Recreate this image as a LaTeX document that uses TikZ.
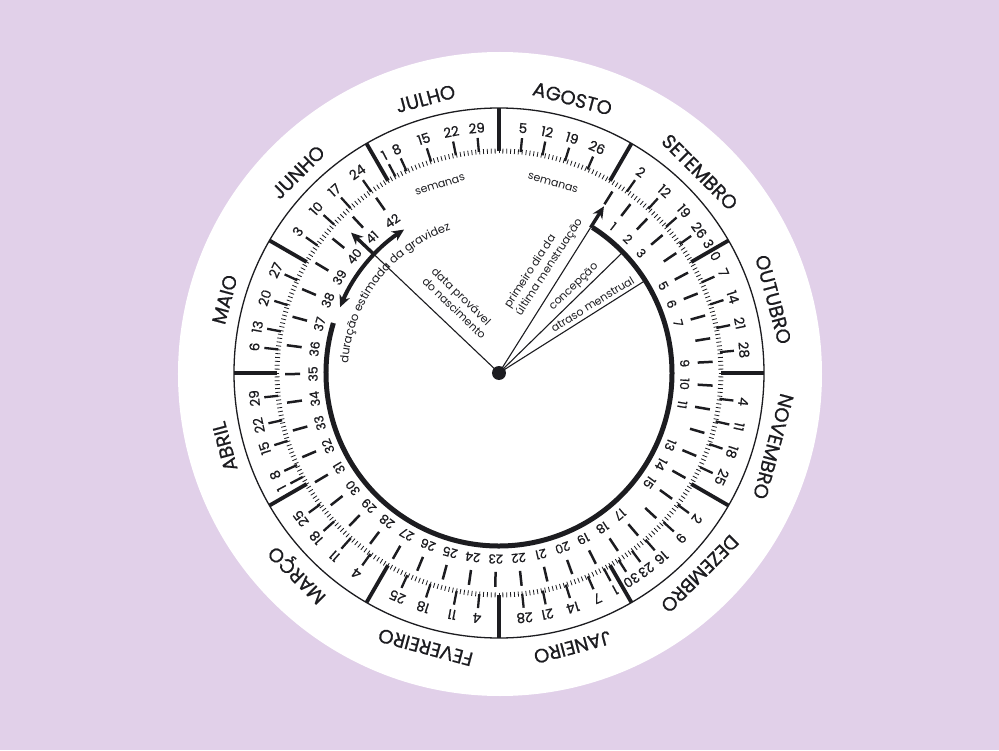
\documentclass[tikz,border=0pt]{standalone}
\usepackage{fontspec}
\setmainfont{Poppins}
\newfontfamily\wheelfont{Poppins}[FakeBold=0.7]
\usepackage{tikz}
\usetikzlibrary{arrows.meta, decorations.text}

\definecolor{lilac}{HTML}{E1D0E9}
\definecolor{ink}{HTML}{1C1C20}
\newcommand\durfont{\fontsize{11.5}{11.5}\selectfont}

\tikzset{
  monthname/.style={font=\wheelfont\fontsize{19.5}{19.5}\selectfont, text=ink, inner sep=0pt},
  daylabel/.style={font=\wheelfont\fontsize{13.5}{13.5}\selectfont, text=ink, inner sep=0pt},
  weeklabel/.style={font=\wheelfont\fontsize{12.5}{12.5}\selectfont, text=ink, inner sep=0pt},
  smalltext/.style={font=\fontsize{11}{13.5}\selectfont, text=ink, inner sep=0pt, align=left},
  daytick/.style={ink, line width=2.3pt},
  weekdash/.style={ink, line width=2.5pt},
  divider/.style={ink, line width=3.8pt},
  pointer/.style={ink, line width=1.1pt},
  pointerhead/.style={ink, line width=3.4pt, -{Stealth[length=12pt,width=11pt]}}
}

\begin{document}
\begin{tikzpicture}[x=1pt, y=1pt]
  \useasboundingbox (-499,-377) rectangle (500,373);
  \fill[lilac] (-499,-377) rectangle (500,373);
  \fill[white] (1,-1) circle[radius=322];

  % outer ring and daily ticks
  \draw[ink, line width=1.3pt] (0,0) circle[radius=265];
  \foreach \d in {0,...,359}
    \draw[ink, line width=0.8pt] (\d:219.5) -- (\d:224.5);

  % months
  \foreach \m in {0,...,11}
    \draw[divider] ({90-30*\m}:222) -- ({90-30*\m}:265);
  \foreach \name [count=\i from 0] in {AGOSTO, SETEMBRO, OUTUBRO, NOVEMBRO, DEZEMBRO, JANEIRO,
      FEVEREIRO, MARÇO, ABRIL, MAIO, JUNHO, JULHO}
    \node[monthname, rotate={-30*\i-15}] (month\i) at ({75-30*\i}:284) {\name};

  % days
  \foreach \a/\t in {5.6/5, 11.3/12, 17.3/19, 23.5/26, 35.2/2, 42.3/12, 48.8/19, 54.5/26,
      65.9/7, 72/14, 78.3/21, 84.6/28, 96.7/4, 102.6/11, 108.7/18, 115.1/25,
      126.4/2, 132.2/9, 138.7/16, 143.2/23, 147.4/30, 151.8/1, 156.4/7, 162.5/14, 168.6/21, 174/28,
      185.1/4, 191/11, 198/18, 204.4/25, 215.4/4, 221.9/11, 228/18, 233.7/25,
      242.1/1, 245.5/8, 252.2/15, 257.7/22, 264.1/29, 276.1/6, 280.8/13, 287.8/20, 294.7/27,
      305.1/3, 312/10, 318/17, 324.8/24, 332.2/1, 335.4/8, 342.2/15, 348.8/22, 354.8/29}
  {
    \draw[daytick] ({90-\a}:222) -- ({90-\a}:236);
    \node[daylabel, rotate=-\a] at ({90-\a}:246) {\t};
  }
  \node[daylabel, rotate=-60] (sep30) at (30:246) {3\hspace{6pt}0};

  % weeks
  \foreach \w in {0,...,42} {
    \pgfmathsetmacro\wa{90-(32+5.875*\w+0.0262*\w*\w)}
    \draw[weekdash] (\wa:199) -- (\wa:214);
  }
  \foreach \w in {1,2,3,5,6,7,9,10,11,13,14,15,17,18,...,42} {
    \pgfmathsetmacro\wa{32+5.875*\w+0.0262*\w*\w}
    \node[weeklabel, rotate=-\wa] at ({90-\wa}:186) {\w};
  }
  \node[smalltext, rotate=17.4] (semL) at (-59,188) {semanas};
  \node[smalltext, rotate=-15.9] (semR) at (54,190) {semanas};

  % gestation arcs
  \draw[ink, line width=5pt] (57.3:173) arc[start angle=57.3, end angle=-196.8, radius=173];
  \draw[ink, line width=4pt, {Stealth[length=12pt,width=11pt]}-{Stealth[length=12pt,width=11pt]}]
    (157.5:172) arc[start angle=157.5, end angle=123.5, radius=172];
  \path[decorate, decoration={text along path, text={|\durfont|duração estimada da gravidez},
      text align=center, text color=ink}]
    (183:151) arc[start angle=183, end angle=102, radius=151];

  % pointers
  \node[circle, fill=ink, minimum size=14pt, inner sep=0pt] (hub) at (0,0) {};
  \coordinate (dueend) at (136.5:172);
  \coordinate (lmpend) at (57.8:172);
  \coordinate (conend) at (44.3:171);
  \coordinate (delend) at (32.3:171);
  \draw[pointer] (hub.center) -- (dueend);
  \draw[pointerhead] (dueend) -- (136.5:204);
  \draw[pointer] (hub.center) -- (lmpend);
  \draw[pointerhead] (lmpend) -- (57.8:197);
  \draw[pointer] (hub.center) -- (conend);
  \draw[pointer] (hub.center) -- (delend);

  \node[smalltext, rotate=-44, anchor=west] (due) at (-70,99) {data provável\\do nascimento};
  \node[smalltext, rotate=57, anchor=west] (lmp) at (14,62) {primeiro dia da\\última menstruação};
  \node[smalltext, rotate=44] (concep) at (75,86) {concepção};
  \node[smalltext, rotate=31.3] (delay) at (93.5,69) {atraso menstrual};
\end{tikzpicture}
\end{document}
